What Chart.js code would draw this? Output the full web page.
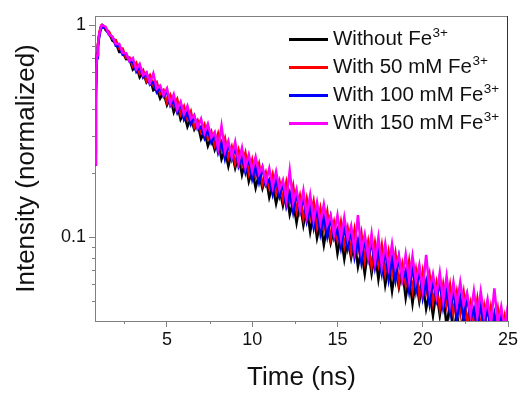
<!DOCTYPE html>
<html><head><meta charset="utf-8">
<script src="https://cdn.jsdelivr.net/npm/chart.js@4.4.1/dist/chart.umd.min.js"></script>
<style>html,body{margin:0;padding:0;background:#fff}#wrap{width:522px;height:394px}</style>
</head><body><div id="wrap"><canvas id="c" width="522" height="394"></canvas></div>
<script>
const time = [0.8,0.83,0.86,0.9,0.95,1.0,1.05,1.1,1.15,1.2,1.3,
1.4,1.6,1.8,2.0,2.2,2.4,2.6,2.8,3.0,3.2,
3.4,3.6,3.8,4.0,4.2,4.4,4.6,4.8,5.0,5.2,
5.4,5.6,5.8,6.0,6.2,6.4,6.6,6.8,7.0,7.2,
7.4,7.6,7.8,8.0,8.2,8.4,8.6,8.8,9.0,9.2,
9.4,9.6,9.8,10.0,10.2,10.4,10.6,10.8,11.0,11.2,
11.4,11.6,11.8,12.0,12.2,12.4,12.6,12.8,13.0,13.2,
13.4,13.6,13.8,14.0,14.2,14.4,14.6,14.8,15.0,15.2,
15.4,15.6,15.8,16.0,16.2,16.4,16.6,16.8,17.0,17.2,
17.4,17.6,17.8,18.0,18.2,18.4,18.6,18.8,19.0,19.2,
19.4,19.6,19.8,20.0,20.2,20.4,20.6,20.8,21.0,21.2,
21.4,21.6,21.8,22.0,22.2,22.4,22.6,22.8,23.0,23.2,
23.4,23.6,23.8,24.0,24.2,24.4,24.6,24.8,25.0];

const withoutFe = [0.25,0.50,0.64,0.73,0.80,0.87,0.92,0.96,0.99,1.0,0.985,
.947,.917,.844,.826,.747,.749,.690,.693,.617,.643,
.567,.599,.536,.562,.493,.505,.451,.480,.420,.457,
.388,.425,.359,.385,.332,.364,.322,.345,.291,.315,
.269,.297,.258,.286,.233,.258,.216,.253,.212,.243,
.197,.229,.183,.207,.171,.199,.170,.192,.154,.176,
.144,.169,.141,.166,.128,.147,.117,.145,.114,.138,
.106,.130,.099,.117,.092,.114,.094,.111,.084,.102,
.079,.099,.080,.097,.0727,.0869,.0671,.0876,.0675,.0848,
.0634,.081,.0595,.0732,.0558,.0719,.0581,.0705,.0518,.0648,
.0487,.0636,.0498,.0615,.046,.0549,.0427,.0557,.0429,.0542,
.038,.049,.036,.044,.034,.044,.035,.043,.032,.040,
.030,.040,.031,.039,.029,.035,.027,.036,.028];

const with50mM = [0.22,0.46,0.63,0.73,0.81,0.88,0.93,0.97,0.995,1.0,0.985,
.959,.931,.860,.850,.773,.774,.700,.704,.639,.665,
.589,.614,.544,.580,.520,.539,.474,.494,.431,.468,
.415,.448,.380,.414,.360,.392,.330,.355,.313,.340,
.291,.315,.271,.308,.261,.293,.237,.267,.222,.258,
.219,.250,.200,.232,.194,.222,.178,.202,.171,.198,
.161,.184,.150,.182,.148,.175,.133,.157,.123,.152,
.124,.148,.112,.137,.109,.132,.099,.118,.097,.118,
.091,.110,.085,.109,.0867,.105,.0774,.0954,.0728,.094,
.0744,.0919,.0676,.0855,.0668,.0838,.0607,.0748,.0599,.077,
.0563,.0703,.0529,.069,.055,.0668,.0494,.0608,.0463,.060,
.0478,.0595,.0438,.0553,.0434,.0549,.0396,.049,.0395,.051,
.0376,.0472,.0357,.0469,.0376,.0461,.0341,.0422,.0325];

const with100mM = [0.22,0.44,0.60,0.70,0.78,0.85,0.90,0.94,0.965,0.975,0.97,
.970,.899,.880,.799,.797,.726,.736,.674,.669,.603,
.638,.567,.595,.524,.538,.482,.509,.461,.488,.417,
.442,.387,.427,.359,.388,.341,.373,.323,.332,.293,
.323,.279,.304,.250,.279,.234,.275,.234,.266,.216,
.239,.202,.236,.188,.215,.181,.212,.176,.187,.159,
.188,.156,.179,.140,.162,.131,.161,.132,.155,.119,
.138,.111,.138,.104,.125,.101,.124,.099,.109,.089,
.112,.089,.108,.0807,.0967,.0759,.0977,.0790,.0959,.0718,
.0858,.0676,.0877,.0635,.0796,.0628,.0804,.0622,.0697,.0555,
.0725,.0559,.0703,.0517,.0619,.0485,.0629,.0508,.0616,.0464,
.0554,.0438,.0569,.0411,.0518,.0411,.0526,.0408,.0462,.0368,
.0484,.0374,.0473,.0343,.0434,.0345,.0443,.0344,.039];

const with150mM = [0.22,0.45,0.62,0.72,0.80,0.87,0.92,0.96,0.99,1.0,0.99,
.981,.903,.882,.812,.816,.740,.735,.678,.700,.619,
.655,.580,.598,.535,.591,.501,.518,.467,.503,.426,
.471,.399,.435,.380,.416,.361,.375,.328,.361,.310,
.342,.295,.313,.262,.335,.254,.284,.238,.281,.225,
.264,.213,.245,.206,.239,.199,.215,.181,.211,.173,
.204,.168,.186,.149,.206,.146,.168,.135,.166,.126,
.158,.120,.146,.117,.143,.114,.127,.103,.127,.099,
.124,.098,.113,.087,.127,.086,.103,.081,.104,.0765,
.100,.073,.093,.0726,.093,.072,.082,.064,.083,.0626,
.0815,.062,.074,.0564,.0826,.056,.067,.053,.068,.050,
.0655,.0483,.0614,.0478,.0614,.048,.0546,.043,.0559,.0424,
.0555,.0424,.0509,.039,.0574,.0392,.0471,.0372,.048];

const seriesNames = ['Without Fe', 'With 50 mM Fe', 'With 100 mM Fe', 'With 150 mM Fe'];
const seriesSup = '3+';
const seriesColors = ['#000000', '#ff0000', '#0000ff', '#ff00ff'];
const xMajorTicks = [5, 10, 15, 20, 25];
const xMinorTicks = [2.5, 7.5, 12.5, 17.5, 22.5];
const yMajorTicks = [0.1, 1];
const yMinorTicks = [0.05, 0.06, 0.07, 0.08, 0.09, 0.2, 0.3, 0.4, 0.5, 0.6, 0.7, 0.8, 0.9];
const xRange = [0.78, 25];
const yRange = [0.0403, 1.103];
const xTitle = 'Time (ns)';
const yTitle = 'Intensity (normalized)';

const FONT = '"Liberation Sans", Arial, sans-serif';
const AXIS_GRAY = '#808080';
const TEXT = '#111111';

const seriesData = [withoutFe, with50mM, with100mM, with150mM];
const datasets = seriesData.map((vals, k) => ({
  label: seriesNames[k] + '\u00B3\u207A',
  data: time.map((t, i) => ({ x: t, y: vals[i] })),
  borderColor: seriesColors[k],
  borderWidth: 2.5,
  borderJoinStyle: 'miter',
  pointRadius: 0,
  tension: 0,
  fill: false,
  clip: 0
})).reverse(); // last series drawn on top

const decorPlugin = {
  id: 'decor',
  beforeDatasetsDraw(chart) {
    chart.ctx.miterLimit = 10;
  },
  afterDraw(chart) {
    const { ctx, chartArea: a, scales: { x, y } } = chart;
    ctx.save();
    ctx.lineWidth = 1;
    ctx.strokeStyle = AXIS_GRAY;
    ctx.beginPath();
    ctx.moveTo(a.left, a.top + 0.5); ctx.lineTo(a.right, a.top + 0.5);
    ctx.stroke();
    ctx.strokeStyle = '#333333';
    ctx.beginPath();
    ctx.moveTo(a.right - 0.5, a.top); ctx.lineTo(a.right - 0.5, a.bottom);
    ctx.stroke();
    ctx.strokeStyle = AXIS_GRAY;
    ctx.beginPath();
    xMinorTicks.forEach(v => {
      const px = Math.round(x.getPixelForValue(v)) + 0.5;
      ctx.moveTo(px, a.bottom); ctx.lineTo(px, a.bottom + 3);
    });
    yMinorTicks.forEach(v => {
      const py = Math.round(y.getPixelForValue(v)) + 0.5;
      ctx.moveTo(a.left, py); ctx.lineTo(a.left - 3, py);
    });
    ctx.stroke();
    seriesNames.forEach((name, k) => {
      const ly = 39.5 + k * 28;
      ctx.strokeStyle = seriesColors[k];
      ctx.lineWidth = 3;
      ctx.beginPath(); ctx.moveTo(289, ly); ctx.lineTo(328, ly); ctx.stroke();
      ctx.fillStyle = TEXT;
      ctx.textAlign = 'left';
      ctx.textBaseline = 'alphabetic';
      ctx.font = '20.5px ' + FONT;
      ctx.fillText(name, 333, ly + 5);
      const w = ctx.measureText(name).width;
      ctx.font = '13.5px ' + FONT;
      ctx.fillText(seriesSup, 333 + w + 0.5, ly - 2.5);
    });
    ctx.restore();
  }
};

new Chart(document.getElementById('c'), {
  type: 'line',
  data: { datasets },
  plugins: [decorPlugin],
  options: {
    responsive: false,
    animation: false,
    devicePixelRatio: 1,
    layout: { padding: { top: 16, right: 14, left: 0, bottom: 0 } },
    plugins: { legend: { display: false }, tooltip: { enabled: false } },
    scales: {
      x: {
        type: 'linear', min: xRange[0], max: xRange[1],
        afterBuildTicks: s => { s.ticks = xMajorTicks.map(v => ({ value: v })); },
        afterFit: s => { s.height = 73; },
        grid: { display: true, drawOnChartArea: false, drawTicks: true, tickLength: 6, tickColor: AXIS_GRAY, tickWidth: 1 },
        border: { display: true, color: AXIS_GRAY, width: 1 },
        ticks: { color: TEXT, font: { family: FONT, size: 18 }, padding: 2, maxRotation: 0, autoSkip: false, callback: v => String(v) },
        title: { display: true, text: xTitle, color: TEXT, font: { family: FONT, size: 26, lineHeight: 1 }, padding: { top: 0, bottom: 3 } }
      },
      y: {
        type: 'logarithmic', min: yRange[0], max: yRange[1],
        afterBuildTicks: s => { s.ticks = yMajorTicks.map(v => ({ value: v })); },
        afterFit: s => { s.width = 95; },
        grid: { display: true, drawOnChartArea: false, drawTicks: true, tickLength: 6, tickColor: AXIS_GRAY, tickWidth: 1 },
        border: { display: true, color: AXIS_GRAY, width: 1 },
        ticks: { color: TEXT, font: { family: FONT, size: 18 }, padding: 3, autoSkip: false, callback: v => String(v) },
        title: { display: true, text: yTitle, color: TEXT, font: { family: FONT, size: 26, lineHeight: 1 }, padding: { top: 13.5, bottom: 0 } }
      }
    }
  }
});
</script>
</body></html>
